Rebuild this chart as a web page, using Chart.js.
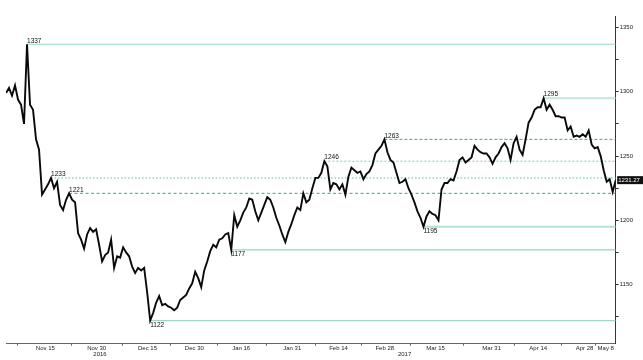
<!DOCTYPE html>
<html>
<head>
<meta charset="utf-8">
<script src="https://cdn.jsdelivr.net/npm/chart.js@4.4.1/dist/chart.umd.min.js"></script>
<style>
  html, body { margin: 0; padding: 0; background: #fff; }
</style>
</head>
<body>
<canvas id="myChart" width="643" height="360"></canvas>
<script>
// setup
// price samples, oldest first (early Nov 2016 .. May 10 2017)
const prices = [
  1299, 1303, 1297, 1305, 1294, 1290, 1275, 1337, 1290, 1286,
  1263, 1255, 1220, 1224, 1228, 1233, 1225, 1230, 1212, 1208,
  1216, 1221, 1216, 1214, 1190, 1185, 1178, 1189, 1194, 1191,
  1193, 1181, 1168, 1173, 1175, 1185, 1163, 1172, 1171, 1179,
  1175, 1172, 1164, 1159, 1163, 1161, 1163, 1144, 1122, 1128,
  1136, 1141, 1134, 1135, 1133, 1132, 1130, 1132, 1138, 1140,
  1142, 1147, 1151, 1160, 1155, 1148, 1161, 1168, 1176, 1181,
  1179, 1185, 1186, 1189, 1190, 1177, 1204, 1195, 1200, 1206,
  1210, 1217, 1216, 1207, 1200, 1206, 1212, 1218, 1216, 1210,
  1202, 1196, 1189, 1183, 1191, 1197, 1204, 1210, 1208, 1221,
  1214, 1216, 1225, 1233, 1233, 1237, 1246, 1242, 1224, 1229,
  1228, 1224, 1228, 1220, 1234, 1241, 1239, 1237, 1238, 1232,
  1236, 1238, 1243, 1252, 1255, 1258, 1263, 1253, 1247, 1245,
  1237, 1229, 1230, 1232, 1225, 1220, 1214, 1207, 1202, 1195,
  1203, 1207, 1205, 1204, 1200, 1224, 1229, 1229, 1232, 1231,
  1238, 1247, 1249, 1245, 1247, 1249, 1258, 1255, 1253, 1252,
  1252, 1249, 1244, 1249, 1252, 1257, 1260, 1256, 1247, 1260,
  1265, 1255, 1251, 1263, 1276, 1280, 1286, 1288, 1288, 1295,
  1286, 1290, 1286, 1281, 1281, 1280, 1280, 1270, 1273, 1265,
  1266, 1265, 1267, 1265, 1270, 1259, 1256, 1257, 1250, 1239,
  1230, 1232, 1222, 1231.27,
];

// x axis labels (positions are sample indexes)
const dateLabels = ["Nov 15", "Nov 30", "Dec 15", "Dec 30", "Jan 16", "Jan 31", "Feb 14",
  "Feb 28", "Mar 15", "Mar 31", "Apr 14", "Apr 28", "May 8"];
const datePos = [13.1, 30.2, 47.1, 62.7, 78.3, 95.3, 110.7, 126.1, 143, 161.7, 177.2, 192.6, 199.7];
const yearLabels = ["2016", "2017"];
const yearPos = [31.3, 132.7];

// y axis
const yTicks = [1125, 1150, 1175, 1200, 1225, 1250, 1275, 1300, 1325, 1350];

// support / resistance levels
const levelValues = [1337, 1295, 1263, 1246, 1233, 1221, 1195, 1177, 1122];
const levelStart = [7, 179, 126, 106, 15, 21, 139, 75, 48];
const levelAbove = [true, true, true, true, true, true, false, false, false];
const levelColors = ["#94d9c1", "#bfe9d6", "#2fb08a", "#7fcfb2", "#8fd6bc", "#3ea784", "#b2e3cf", "#98d3bd", "#9fd6c1"];
const levelWidths = [1.2, 2, 1, 1, 1.5, 1, 2, 1.2, 1.2];
const levelDash = [[], [], [3, 2], [2, 2], [1.5, 2], [3, 2.5], [], [], []];

const lastIdx = prices.length - 1;
const midTicks = [datePos[0] - 9.4];
for (let i = 1; i < datePos.length; i++) midTicks.push((datePos[i - 1] + datePos[i]) / 2);

const FONT = "'Liberation Sans', Arial, sans-serif";

const levelSets = levelValues.map((v, k) => ({
  data: [{ x: levelStart[k], y: v }, { x: lastIdx, y: v }],
  borderColor: levelColors[k],
  borderWidth: levelWidths[k],
  borderDash: levelDash[k],
  pointRadius: 0,
  tension: 0,
}));

const data = {
  datasets: [
    {
      label: "Price",
      data: prices.map((p, i) => ({ x: i, y: p })),
      borderColor: "#0a0a0a",
      borderWidth: 1.9,
      pointRadius: 0,
      tension: 0,
    },
    ...levelSets,
  ],
};

// labels on the levels + last price box
const overlay = {
  id: "overlay",
  afterDatasetsDraw(chart) {
    const { ctx, scales } = chart;
    ctx.save();
    ctx.font = "6.5px " + FONT;
    ctx.fillStyle = "#111";
    ctx.textAlign = "left";
    levelValues.forEach((v, k) => {
      const x = scales.x.getPixelForValue(levelStart[k]);
      const y = scales.y.getPixelForValue(v);
      if (levelAbove[k]) {
        ctx.textBaseline = "bottom";
        ctx.fillText(String(v), x, y - 0.3);
      } else {
        ctx.textBaseline = "top";
        ctx.fillText(String(v), x, y + 1.5);
      }
    });
    ctx.restore();
  },
  afterDraw(chart) {
    const { ctx, scales, chartArea } = chart;
    const y = scales.y.getPixelForValue(prices[lastIdx]);
    ctx.save();
    ctx.fillStyle = "#111";
    ctx.fillRect(chartArea.right + 1.5, y - 4, 40, 8);
    ctx.fillStyle = "#fff";
    ctx.font = "6px " + FONT;
    ctx.textBaseline = "middle";
    ctx.textAlign = "left";
    ctx.fillText(prices[lastIdx].toFixed(2), chartArea.right + 2.5, y + 0.3);
    ctx.restore();
  },
};

// config
const config = {
  type: "line",
  data,
  plugins: [overlay],
  options: {
    responsive: false,
    animation: false,
    devicePixelRatio: 1,
    layout: { padding: { left: 6, top: 16, right: 0, bottom: 0 } },
    plugins: {
      legend: { display: false },
      tooltip: { enabled: false },
    },
    scales: {
      x: {
        type: "linear",
        min: 0,
        max: lastIdx,
        afterBuildTicks(scale) {
          scale.ticks = [...datePos, ...midTicks, ...yearPos].map((v) => ({ value: v }));
        },
        afterFit(scale) {
          scale.height = 16.3;
        },
        border: { display: true, color: "#666", width: 1 },
        grid: {
          drawOnChartArea: false,
          drawTicks: true,
          tickLength: 2,
          color: (c) => (c.tick && midTicks.includes(c.tick.value) ? "#666" : "rgba(0,0,0,0)"),
        },
        ticks: {
          autoSkip: false,
          maxRotation: 0,
          padding: 0,
          color: "#222",
          font: { family: FONT, size: 6, lineHeight: 1 },
          callback(value) {
            const d = datePos.indexOf(value);
            if (d >= 0) return dateLabels[d];
            const yr = yearPos.indexOf(value);
            if (yr >= 0) return ["", yearLabels[yr]];
            return "";
          },
        },
      },
      y: {
        position: "right",
        min: 1104,
        max: 1359,
        afterBuildTicks(scale) {
          scale.ticks = yTicks.map((v) => ({ value: v }));
        },
        afterFit(scale) {
          scale.width = 27.3;
        },
        border: { display: true, color: "#333", width: 1 },
        grid: { drawOnChartArea: false, drawTicks: true, tickLength: 3, color: "#333" },
        ticks: {
          padding: 1,
          color: "#222",
          font: { family: FONT, size: 6 },
          callback: (v) => (v % 50 === 0 ? String(v) : ""),
        },
      },
    },
  },
};

// render init block
const myChart = new Chart(document.getElementById("myChart"), config);
</script>
</body>
</html>
